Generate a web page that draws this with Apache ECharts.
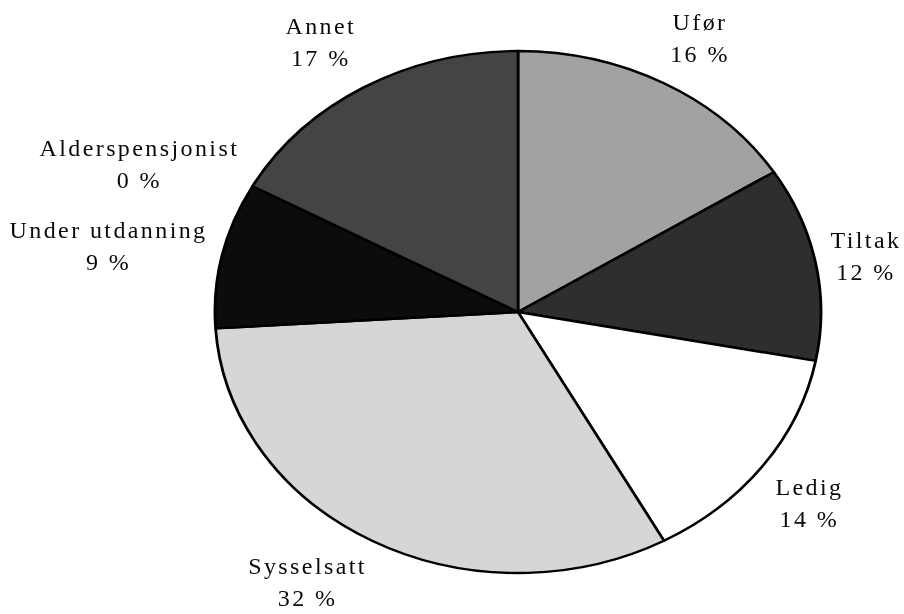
<!DOCTYPE html>
<html>
<head>
<meta charset="utf-8">
<script src="https://cdn.jsdelivr.net/npm/echarts@6/dist/echarts.min.js"></script>
<style>
  html, body { margin: 0; padding: 0; background: #fff; }
  #stage { position: relative; width: 904px; height: 614px; overflow: hidden; }
  #pie, #labels { position: absolute; left: 0; top: 0; width: 904px; height: 614px; }
  /* the disc is drawn round and stretched into an ellipse */
  #pie { transform-origin: 518px 312px; transform: scaleX(1.161); }
</style>
</head>
<body>
<div id="stage">
  <div id="pie"></div>
  <div id="labels"></div>
</div>
<script>
// Status groups and their shares (per cent)
const categories = ['Ufør', 'Tiltak', 'Ledig', 'Sysselsatt', 'Under utdanning', 'Alderspensjonist', 'Annet'];
const shares = [16, 12, 14, 32, 9, 0, 17];

// Grey tones for each slice
const palette = ['#a2a2a2', '#2e2e2e', '#ffffff', '#d6d6d6', '#0c0c0c', '#e6e6e6', '#444444'];

// Ellipse geometry
const CX = 518, CY = 312, RY = 261, RX = 303;
const LABEL_GAP = 1.05;

// Wide tracking for the label lettering (2d contexts get it when created,
// so text measuring and drawing both include it)
const baseGetContext = HTMLCanvasElement.prototype.getContext;
HTMLCanvasElement.prototype.getContext = function (type, opts) {
  const ctx = baseGetContext.call(this, type, opts);
  if (ctx && type === '2d' && 'letterSpacing' in ctx) ctx.letterSpacing = '2.4px';
  return ctx;
};

const seriesData = categories.map((name, i) => ({ name: name, value: shares[i] }));
const total = shares.reduce((a, b) => a + b, 0);

const pieChart = echarts.init(document.getElementById('pie'), null, { renderer: 'svg' });
pieChart.setOption({
  animation: false,
  series: [{
    type: 'pie',
    center: [CX, CY],
    radius: RY,
    startAngle: 90,
    clockwise: true,
    label: { show: false },
    labelLine: { show: false },
    silent: true,
    itemStyle: {
      color: (p) => palette[p.dataIndex],
      borderColor: '#000',
      borderWidth: 2.4
    },
    data: seriesData
  }]
});

// Labels sit just outside the ellipse, pushed away from it by their own size
const labelChart = echarts.init(document.getElementById('labels'), null, { renderer: 'canvas' });
labelChart.setOption({
  animation: false,
  series: [{
    type: 'pie',
    center: [CX, CY],
    radius: RY,
    startAngle: 90,
    clockwise: true,
    silent: true,
    itemStyle: { color: 'rgba(0,0,0,0)', borderWidth: 0 },
    labelLine: { show: false },
    label: {
      show: true,
      position: 'inside',
      formatter: (p) => p.name + '\n' + shares[p.dataIndex] + ' %',
      fontFamily: 'Liberation Serif',
      fontSize: 24,
      lineHeight: 32,
      color: '#0a0a0a',
      textBorderWidth: 0,
      overflow: 'none',
      align: 'center'
    },
    labelLayout: function (p) {
      const i = p.dataIndex;
      let before = 0;
      for (let j = 0; j < i; j++) before += shares[j];
      const mid = (before + shares[i] / 2) / total * Math.PI * 2;
      const s = Math.sin(mid), c = Math.cos(mid);
      const ax = CX + RX * LABEL_GAP * s;
      const ay = CY - RY * LABEL_GAP * c;
      const w = p.labelRect.width;
      const h = p.labelRect.height;
      const side = Math.max(-1, Math.min(1, s * 2));
      const rise = c >= 0
        ? Math.min(1, Math.pow(c, 1.5) * 1.3)
        : -Math.min(1, -c * 1.7);
      return {
        x: ax + side * w / 2,
        y: ay - rise * h / 2,
        align: 'center',
        verticalAlign: 'middle'
      };
    },
    data: seriesData
  }]
});
</script>
</body>
</html>
